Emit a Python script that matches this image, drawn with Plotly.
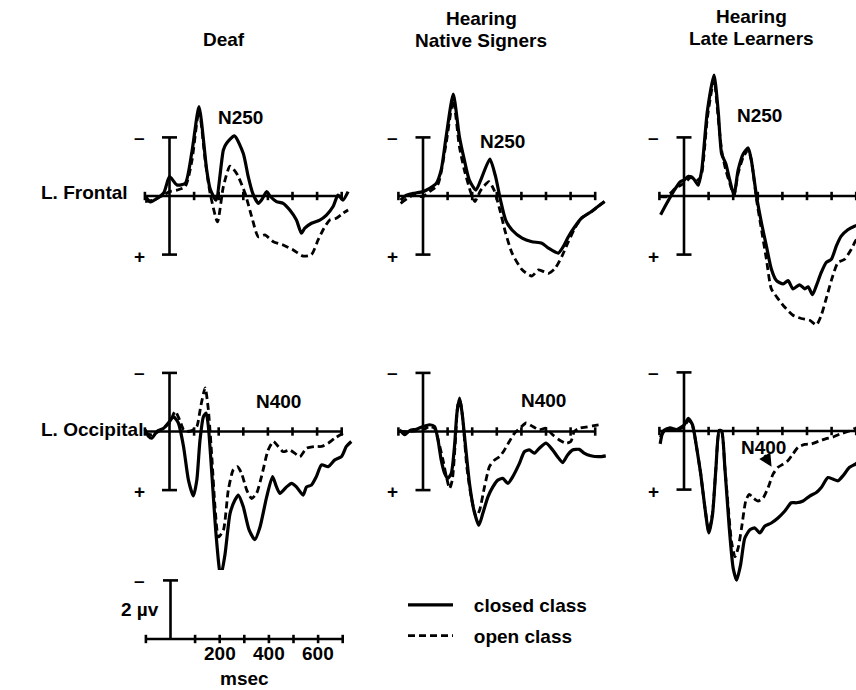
import plotly.graph_objects as go

# ---------------- data (ms, µV; negative plotted up) ----------------
TICKS_MS = [-100, 100, 200, 300, 400, 500, 600, 700]
AXIS_START_MS, AXIS_END_MS = -100, 700
BAR_UV = 2
SCALE_TICK_LABELS = [200, 400, 600]

COLUMN_TITLES = [["Deaf"], ["Hearing", "Native Signers"], ["Hearing", "Late Learners"]]
ROW_LABELS = ["L. Frontal", "L. Occipital"]
PEAK_LABELS = ["N250", "N250", "N250", "N400", "N400", "N400"]
SERIES_NAMES = ["closed class", "open class"]

deaf_frontal_closed_t = [-99, -78, -24, 0, 30, 64, 91, 120, 151, 165, 189, 219, 232, 264, 300, 320, 338, 361, 374, 395, 408, 435, 462, 489, 516, 536, 550, 577, 611, 638, 665, 685, 705, 726]
deaf_frontal_closed_v = [0.0, 0.2, -0.1, -0.66, -0.38, -0.43, -1.5, -3.05, -0.9, -0.25, 0.14, -1.57, -1.8, -2.05, -1.45, -0.66, -0.1, 0.25, 0.14, -0.15, 0.0, 0.19, 0.25, 0.48, 0.82, 1.27, 1.1, 0.93, 0.82, 0.65, 0.36, -0.03, 0.14, -0.15]
deaf_frontal_open_t = [-99, -65, -24, 0, 30, 64, 91, 120, 145, 165, 195, 219, 246, 273, 307, 334, 361, 388, 422, 462, 503, 543, 577, 604, 624, 651, 678, 705, 726]
deaf_frontal_open_v = [0.19, 0.14, -0.03, -0.15, -0.2, -0.32, -1.2, -2.93, -1.23, -0.1, 0.88, -0.32, -1.02, -0.77, -0.1, 0.7, 1.39, 1.33, 1.56, 1.67, 1.84, 2.05, 2.0, 1.5, 1.16, 0.82, 0.76, 0.59, 0.48]

native_frontal_closed_t = [-91, -67, -40, 0, 27, 54, 74, 94, 123, 148, 168, 188, 215, 235, 272, 295, 315, 336, 362, 403, 443, 483, 510, 550, 570, 591, 617, 644, 685, 711, 738]
native_frontal_closed_v = [0.14, -0.03, -0.09, -0.15, -0.26, -0.43, -0.89, -2.02, -3.48, -2.02, -1.23, -0.55, -0.2, -0.55, -1.26, -0.66, 0.14, 0.82, 1.16, 1.44, 1.56, 1.61, 1.78, 1.95, 1.73, 1.39, 1.05, 0.76, 0.53, 0.36, 0.19]
native_frontal_open_t = [-91, -40, 0, 27, 60, 94, 123, 148, 168, 195, 211, 235, 268, 289, 309, 336, 362, 403, 443, 470, 510, 537, 564, 591, 617, 644, 685, 711, 738]
native_frontal_open_v = [0.25, -0.03, 0.02, -0.15, -0.38, -1.8, -3.27, -1.68, -0.89, -0.1, 0.19, -0.2, -0.49, -0.2, 0.36, 1.27, 1.95, 2.52, 2.73, 2.52, 2.64, 2.47, 2.07, 1.56, 1.1, 0.76, 0.53, 0.36, 0.19]

late_frontal_closed_t = [-95, -70, -43, -16, 0, 18, 38, 58, 72, 95, 122, 139, 153, 170, 186, 203, 220, 241, 261, 274, 295, 315, 335, 355, 376, 403, 423, 443, 470, 491, 505, 522, 538, 558, 578, 599, 619, 639, 666, 693, 720]
late_frontal_closed_v = [0.64, 0.25, -0.15, -0.48, -0.54, -0.67, -0.6, -0.37, -0.88, -2.9, -4.13, -2.9, -1.44, -1.1, -0.54, -0.03, -0.88, -1.44, -1.64, -1.21, 0.02, 0.92, 1.71, 2.49, 2.89, 3.0, 2.89, 3.17, 3.03, 3.17, 3.1, 3.37, 3.06, 2.61, 2.27, 2.16, 1.71, 1.37, 1.15, 1.03, 0.95]
late_frontal_open_t = [-97, -70, -36, 0, 31, 58, 72, 95, 122, 139, 153, 170, 186, 203, 220, 241, 261, 274, 295, 315, 335, 355, 382, 409, 443, 477, 511, 538, 558, 578, 605, 626, 653, 680, 697, 720]
late_frontal_open_v = [0.02, 0.02, -0.26, -0.43, -0.65, -0.54, -0.77, -2.67, -3.97, -2.67, -1.55, -0.88, -0.43, -0.03, -0.77, -1.33, -1.57, -1.21, 0.13, 1.15, 2.16, 3.17, 3.5, 3.79, 4.07, 4.18, 4.24, 4.4, 4.07, 3.5, 2.72, 2.27, 2.16, 1.82, 1.54, 1.3]

deaf_occipital_closed_t = [-99, -85, -72, -51, -24, 0, 16, 36, 57, 77, 97, 111, 124, 138, 149, 158, 172, 189, 208, 226, 246, 266, 280, 300, 324, 347, 368, 395, 419, 435, 449, 476, 496, 516, 543, 557, 577, 597, 618, 645, 672, 699, 719, 739]
deaf_occipital_closed_v = [-0.06, 0.17, 0.23, 0.0, -0.11, -0.34, -0.51, -0.29, 0.51, 1.66, 2.2, 1.66, 0.29, -0.51, -0.63, -0.17, 1.43, 3.49, 4.97, 4.17, 2.8, 2.34, 2.17, 2.57, 3.37, 3.69, 3.26, 2.23, 1.54, 1.89, 2.11, 1.89, 1.77, 1.89, 2.17, 1.89, 1.83, 1.54, 1.14, 1.2, 0.97, 0.86, 0.51, 0.34]
deaf_occipital_open_t = [-99, -72, -38, 0, 23, 41, 57, 70, 91, 111, 127, 145, 158, 172, 185, 199, 219, 239, 259, 276, 293, 314, 334, 354, 374, 401, 422, 442, 462, 489, 509, 530, 557, 591, 618, 645, 672, 705]
deaf_occipital_open_v = [0.06, 0.11, -0.03, -0.29, -0.69, -0.4, -0.06, 0.0, -0.03, -0.17, -0.86, -1.49, -0.74, 0.86, 2.57, 3.6, 3.37, 2.0, 1.31, 1.2, 1.43, 2.0, 2.29, 2.11, 1.54, 0.63, 0.34, 0.51, 0.69, 0.63, 0.74, 0.86, 0.57, 0.51, 0.51, 0.4, 0.23, 0.06]

native_occipital_closed_t = [-95, -74, -54, -27, 0, 27, 47, 61, 74, 88, 101, 115, 128, 138, 149, 159, 173, 189, 207, 227, 243, 264, 284, 304, 324, 345, 365, 392, 412, 432, 453, 473, 500, 527, 547, 568, 588, 608, 635, 655, 682, 716, 743]
native_occipital_closed_v = [-0.06, 0.11, -0.03, -0.08, -0.17, -0.23, -0.17, 0.29, 0.97, 1.43, 1.6, 1.43, 0.51, -0.63, -1.14, -0.63, 0.51, 1.77, 2.69, 3.2, 2.8, 2.23, 1.89, 1.66, 1.6, 1.77, 1.54, 1.09, 0.69, 0.63, 0.74, 0.57, 0.4, 0.63, 0.86, 1.06, 0.8, 0.63, 0.61, 0.74, 0.83, 0.86, 0.83]
native_occipital_open_t = [-95, -54, 0, 27, 47, 65, 81, 95, 108, 119, 132, 143, 151, 162, 178, 196, 216, 230, 250, 270, 291, 311, 331, 351, 372, 399, 419, 446, 473, 500, 527, 554, 581, 601, 615, 635, 662, 689, 716]
native_occipital_open_v = [0.0, 0.0, -0.06, -0.17, -0.11, 0.4, 0.97, 1.54, 1.94, 1.66, 0.29, -0.97, -1.03, -0.4, 1.2, 2.23, 2.91, 2.69, 1.89, 1.2, 0.97, 0.86, 0.63, 0.34, 0.06, -0.15, -0.29, -0.17, -0.06, -0.11, 0.11, 0.29, 0.4, 0.34, 0.0, -0.11, -0.15, -0.19, -0.23]

late_occipital_closed_t = [-97, -84, -57, -30, 0, 18, 35, 51, 68, 85, 101, 116, 130, 143, 153, 166, 184, 200, 214, 230, 247, 268, 288, 308, 328, 355, 382, 409, 436, 457, 484, 511, 538, 558, 585, 605, 626, 646, 673, 697, 720]
late_occipital_closed_v = [0.44, 0.0, -0.11, -0.05, -0.2, -0.43, -0.2, 0.55, 1.47, 2.62, 3.48, 2.85, 1.24, -0.02, 0.0, 1.24, 3.31, 4.69, 5.09, 4.57, 3.66, 3.37, 3.31, 3.48, 3.25, 3.14, 2.97, 2.74, 2.45, 2.45, 2.39, 2.22, 2.1, 1.93, 1.59, 1.64, 1.7, 1.53, 1.24, 1.13, 1.0]
late_occipital_open_t = [-97, -70, -36, 0, 18, 35, 51, 68, 85, 101, 116, 130, 143, 153, 166, 180, 193, 207, 220, 234, 251, 265, 281, 301, 322, 342, 362, 382, 403, 423, 443, 464, 491, 518, 538, 558, 578, 605, 632, 673, 693, 720]
late_occipital_open_v = [0.21, -0.08, -0.02, -0.14, -0.37, -0.16, 0.55, 1.47, 2.62, 3.43, 2.8, 1.24, 0.03, 0.03, 1.24, 2.62, 3.77, 4.29, 4.0, 3.31, 2.39, 2.16, 2.28, 2.39, 2.28, 1.93, 1.47, 1.24, 1.13, 1.01, 0.78, 0.55, 0.46, 0.44, 0.38, 0.32, 0.26, 0.21, 0.11, 0.0, -0.08, -0.1]

# ---------------- layout constants (pixels) ----------------
W, H = 856, 690
SX = 0.246   # px per ms
SY = 29.3    # px per µV
FONT = "Liberation Sans, Arial, Helvetica, sans-serif"
FS = 19
LW_WAVE = 2.8
LW_AXIS = 2.6

panels = [
    dict(o=(169.5, 196.0), box=(120, 365, 60, 345),
         closed=(deaf_frontal_closed_t, deaf_frontal_closed_v), open=(deaf_frontal_open_t, deaf_frontal_open_v),
         peak=(240.5, 117)),
    dict(o=(423.0, 196.0), box=(375, 620, 60, 345),
         closed=(native_frontal_closed_t, native_frontal_closed_v), open=(native_frontal_open_t, native_frontal_open_v),
         peak=(502, 141)),
    dict(o=(684.0, 196.0), box=(636, 856, 20, 345),
         closed=(late_frontal_closed_t, late_frontal_closed_v), open=(late_frontal_open_t, late_frontal_open_v),
         peak=(759.5, 115.5)),
    dict(o=(169.5, 431.5), box=(120, 365, 350, 600),
         closed=(deaf_occipital_closed_t, deaf_occipital_closed_v), open=(deaf_occipital_open_t, deaf_occipital_open_v),
         peak=(278, 401)),
    dict(o=(423.0, 431.5), box=(375, 620, 350, 600),
         closed=(native_occipital_closed_t, native_occipital_closed_v), open=(native_occipital_open_t, native_occipital_open_v),
         peak=(543, 400.5)),
    dict(o=(684.0, 431.0), box=(636, 856, 350, 600),
         closed=(late_occipital_closed_t, late_occipital_closed_v), open=(late_occipital_open_t, late_occipital_open_v),
         peak=(763, 447)),
]
scale_panel = dict(o=(170.5, 639.0), box=(120, 365, 570, 665))

fig = go.Figure()
layout_axes = {}
annotations = []


def ann(text, x, y, **kw):
    d = dict(text=text, x=x / W, y=1 - y / H, xref="paper", yref="paper",
             showarrow=False, xanchor="center", yanchor="middle",
             font=dict(family=FONT, size=FS, color="black", weight="bold"))
    d.update(kw)
    annotations.append(d)


def setup_axes(n, p):
    ox, oy = p["o"]
    x0, x1, yt, yb = p["box"]
    sfx = "" if n == 1 else str(n)
    layout_axes["xaxis" + sfx] = dict(domain=[x0 / W, x1 / W], range=[(x0 - ox) / SX, (x1 - ox) / SX],
                                      visible=False, fixedrange=True, anchor="y" + sfx)
    layout_axes["yaxis" + sfx] = dict(domain=[1 - yb / H, 1 - yt / H], range=[(yb - oy) / SY, (yt - oy) / SY],
                                      visible=False, fixedrange=True, anchor="x" + sfx)
    return "x" + sfx, "y" + sfx


def axis_traces(xa, ya, bar_lo, bar_hi, cap_at):
    tick_half = 4.2 / SY
    cap_half = 7.5 / SX
    line = dict(color="black", width=LW_AXIS)
    fig.add_trace(go.Scatter(x=[AXIS_START_MS, AXIS_END_MS], y=[0, 0], mode="lines", line=line,
                             xaxis=xa, yaxis=ya, showlegend=False, hoverinfo="skip"))
    tx, ty = [], []
    for t in TICKS_MS:
        tx += [t, t, None]
        ty += [-tick_half, tick_half, None]
    fig.add_trace(go.Scatter(x=tx, y=ty, mode="lines", line=line,
                             xaxis=xa, yaxis=ya, showlegend=False, hoverinfo="skip"))
    bx, by = [0, 0, None], [bar_lo, bar_hi, None]
    for c in cap_at:
        bx += [-cap_half, cap_half, None]
        by += [c, c, None]
    fig.add_trace(go.Scatter(x=bx, y=by, mode="lines", line=line,
                             xaxis=xa, yaxis=ya, showlegend=False, hoverinfo="skip"))


for i, p in enumerate(panels):
    n = i + 1
    xa, ya = setup_axes(n, p)
    axis_traces(xa, ya, -BAR_UV, BAR_UV, [-BAR_UV, BAR_UV])
    ct, cv = p["closed"]
    ot, ov = p["open"]
    fig.add_trace(go.Scatter(x=ot, y=ov, mode="lines", name="\u00a0\u00a0\u00a0" + SERIES_NAMES[1],
                             line=dict(color="black", width=LW_WAVE, dash="7px,4px", shape="spline", smoothing=0.6),
                             xaxis=xa, yaxis=ya, showlegend=(i == 0), legendgroup="open", legendrank=2,
                             hoverinfo="skip"))
    fig.add_trace(go.Scatter(x=ct, y=cv, mode="lines", name="\u00a0\u00a0\u00a0" + SERIES_NAMES[0],
                             line=dict(color="black", width=LW_WAVE + 0.4, shape="spline", smoothing=0.6),
                             xaxis=xa, yaxis=ya, showlegend=(i == 0), legendgroup="closed", legendrank=1,
                             hoverinfo="skip"))
    ox, oy = p["o"]
    ann("–", ox - 30.5, oy - 59)
    ann("+", ox - 30.5, oy + 60)
    ann(PEAK_LABELS[i], *p["peak"])

# calibration panel
xs, ys = setup_axes(7, scale_panel)
axis_traces(xs, ys, -BAR_UV, 0, [-BAR_UV])
for v in SCALE_TICK_LABELS:
    annotations.append(dict(text=str(v), x=v, y=1 - 653 / H, xref=xs, yref="paper", showarrow=False,
                            xanchor="center", yanchor="middle",
                            font=dict(family=FONT, size=FS, color="black", weight="bold")))
ann("–", 139, 580)
ann("2 µv", 140, 609)
ann("msec", 244.5, 678)

col_x = [223.5, 481, 751.5]
col_y = [[39.5], [18.5, 41], [16, 38.5]]
for cx, lines, ys_ in zip(col_x, COLUMN_TITLES, col_y):
    for txt, yy in zip(lines, ys_):
        ann(txt, cx, yy)
ann(ROW_LABELS[0], 39, 193, xanchor="left")
ann(ROW_LABELS[1], 39, 429, xanchor="left")

annotations.append(dict(text="", x=356, y=1.22, xref="x6", yref="y6", showarrow=True,
                        ax=-8, ay=-13, arrowhead=2, arrowsize=1, arrowwidth=2.6, arrowcolor="black"))

fig.update_layout(
    width=W, height=H, autosize=False,
    margin=dict(l=0, r=0, t=0, b=0),
    paper_bgcolor="white", plot_bgcolor="white",
    font=dict(family=FONT, size=FS, color="black", weight="bold"),
    showlegend=True,
    legend=dict(x=403 / W, y=1 - 586 / H, xanchor="left", yanchor="top",
                bgcolor="rgba(0,0,0,0)", tracegroupgap=3, itemwidth=45,
                font=dict(family=FONT, size=FS, color="black", weight="bold"),
                traceorder="grouped"),
    annotations=annotations,
    **layout_axes,
)

fig.write_html(
    "out.html",
    config={"displayModeBar": False},
    post_script="document.body.style.margin='0px';document.body.style.padding='0px';"
                "document.body.style.overflow='hidden';",
)
